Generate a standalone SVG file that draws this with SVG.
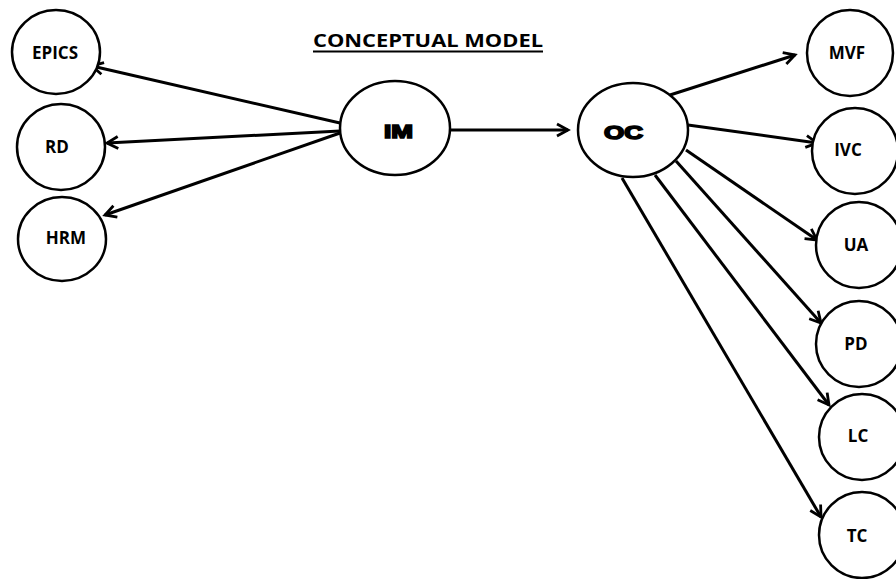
<svg xmlns="http://www.w3.org/2000/svg" width="896" height="579" viewBox="0 0 896 579">
<defs>
<style>
.n{fill:#fff;stroke:#000;stroke-width:2.5}
.t{font-family:"Open Sans","Liberation Sans",sans-serif;font-weight:bold;font-size:17px;text-anchor:middle;fill:#000}
.h{font-family:"Liberation Sans","DejaVu Sans",sans-serif;font-weight:900;font-size:18.5px;fill:#000;stroke:#000;stroke-width:1.6}
.c line{stroke:#000;stroke-width:3;marker-end:url(#a)}
</style>
<marker id="a" markerUnits="userSpaceOnUse" markerWidth="16" markerHeight="16" refX="13" refY="7" orient="auto" viewBox="0 0 16 14">
<path d="M2,1 L13,7 L2,13" fill="none" stroke="#000" stroke-width="2.8"/>
</marker>
</defs>
<rect width="896" height="579" fill="#fff"/>
<g id="title">
<text x="313" y="47" font-family="Open Sans, Liberation Sans, sans-serif" font-weight="bold" font-size="18" textLength="230" lengthAdjust="spacingAndGlyphs">CONCEPTUAL MODEL</text>
<line x1="313" y1="51.5" x2="543" y2="51.5" stroke="#000" stroke-width="1.8"/>
</g>
<g class="c" id="connectors">
<line x1="340" y1="123" x2="92" y2="66"/>
<line x1="340" y1="131" x2="107" y2="143"/>
<line x1="340" y1="133" x2="105" y2="215"/>
<line x1="450" y1="130" x2="568" y2="130"/>
<line x1="670" y1="95" x2="795" y2="55"/>
<line x1="688" y1="125" x2="817" y2="143"/>
<line x1="686" y1="150" x2="817" y2="240"/>
<line x1="676" y1="161" x2="821" y2="323"/>
<line x1="655" y1="175" x2="829" y2="405"/>
<line x1="622" y1="178" x2="821" y2="517"/>
</g>
<g id="EPICS"><ellipse class="n" cx="56" cy="52" rx="44" ry="42"/><text class="t" x="55" y="59">EPICS</text></g>
<g id="RD"><ellipse class="n" cx="61" cy="147" rx="44" ry="43"/><text class="t" x="57" y="153">RD</text></g>
<g id="HRM"><ellipse class="n" cx="62" cy="239" rx="44" ry="42"/><text class="t" x="66" y="244">HRM</text></g>
<g id="IM"><ellipse class="n" cx="395" cy="128" rx="55" ry="47"/><text class="h" x="384" y="137.5" textLength="29" lengthAdjust="spacingAndGlyphs">IM</text></g>
<g id="OC"><ellipse class="n" cx="633" cy="130" rx="55" ry="47"/><text class="h" x="604" y="138.5" textLength="39" lengthAdjust="spacingAndGlyphs">OC</text></g>
<g id="MVF"><ellipse class="n" cx="850" cy="53" rx="43" ry="43"/><text class="t" x="847" y="59">MVF</text></g>
<g id="IVC"><ellipse class="n" cx="855" cy="151" rx="43" ry="43"/><text class="t" x="848" y="156">IVC</text></g>
<g id="UA"><ellipse class="n" cx="859" cy="245" rx="43" ry="43"/><text class="t" x="856" y="251">UA</text></g>
<g id="PD"><ellipse class="n" cx="859" cy="344" rx="43" ry="43"/><text class="t" x="856" y="350">PD</text></g>
<g id="LC"><ellipse class="n" cx="862" cy="437" rx="43" ry="43"/><text class="t" x="858" y="442">LC</text></g>
<g id="TC"><ellipse class="n" cx="862" cy="535" rx="43" ry="43"/><text class="t" x="857" y="542">TC</text></g>
</svg>
